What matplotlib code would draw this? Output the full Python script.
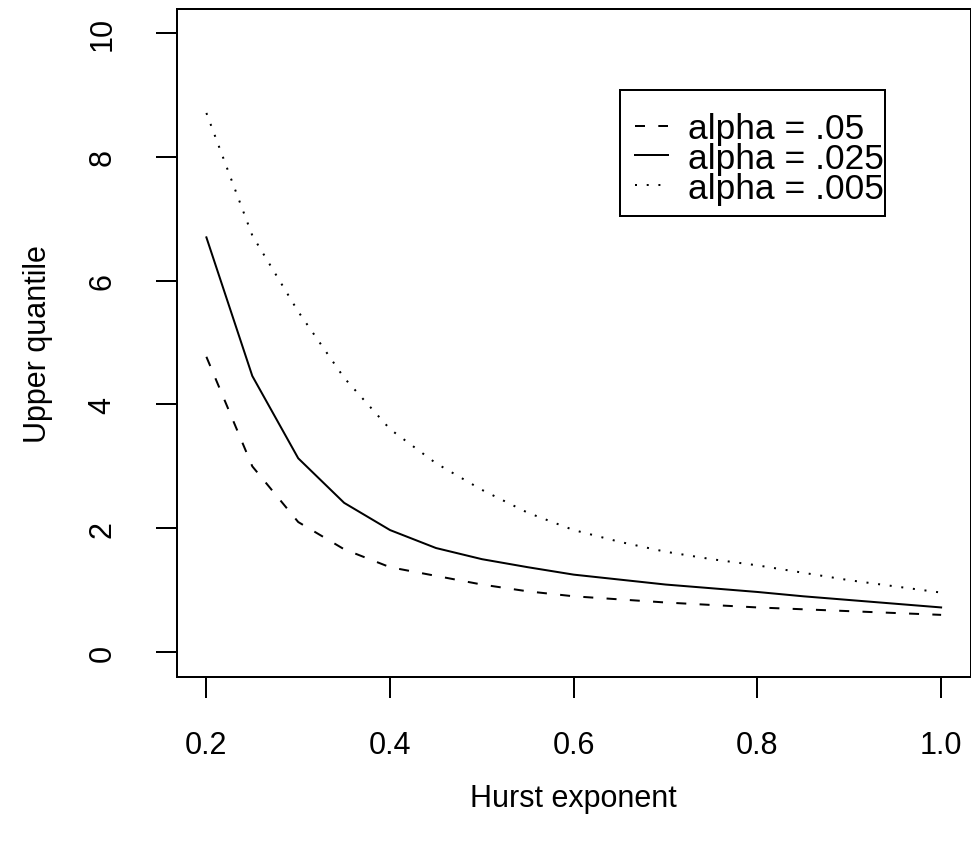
import matplotlib
matplotlib.use("Agg")
import matplotlib.pyplot as plt
from matplotlib.patches import Rectangle

hurst = [0.20, 0.25, 0.30, 0.35, 0.40, 0.45, 0.50, 0.55, 0.60, 0.65,
         0.70, 0.75, 0.80, 0.85, 0.90, 0.95, 1.00]
q_05 = [4.77, 3.00, 2.10, 1.66, 1.37, 1.23, 1.09, 0.98, 0.90, 0.85,
        0.80, 0.76, 0.72, 0.69, 0.66, 0.63, 0.60]
q_025 = [6.70, 4.46, 3.13, 2.41, 1.97, 1.68, 1.50, 1.37, 1.25, 1.17,
         1.09, 1.03, 0.97, 0.90, 0.84, 0.78, 0.72]
q_005 = [8.71, 6.73, 5.50, 4.43, 3.60, 3.05, 2.62, 2.25, 1.97, 1.78,
         1.62, 1.50, 1.40, 1.28, 1.16, 1.06, 0.96]
labels = ["alpha = .05", "alpha = .025", "alpha = .005"]
xticks = [0.2, 0.4, 0.6, 0.8, 1.0]
yticks = [0, 2, 4, 6, 8, 10]

plt.rcParams['font.family'] = ['Liberation Sans', 'DejaVu Sans']
W, H = 971, 845
fig = plt.figure(figsize=(W / 100, H / 100), dpi=100)
ax = fig.add_axes([177 / W, (H - 678) / H, (970.5 - 177) / W, (678 - 10) / H])

lw = 1.44
ax.plot(hurst, q_05, color='black', lw=lw, linestyle=(0, (5, 6.65)),
        dash_capstyle='butt', label=labels[0])
ax.plot(hurst, q_025, color='black', lw=lw, linestyle='-', label=labels[1])
ax.plot(hurst, q_005, color='black', lw=lw, linestyle=(0, (1, 4.85)),
        dash_capstyle='butt', label=labels[2])

ax.set_xlim(0.168, 1.032)
ax.set_ylim(-0.404, 10.39)
ax.set_xticks(xticks)
ax.set_xticklabels([f"{t:.1f}" for t in xticks])
ax.set_yticks(yticks)
ax.set_yticklabels([str(t) for t in yticks], rotation=90, va='center')

for s in ax.spines.values():
    s.set_linewidth(lw)
    s.set_color('black')
ax.tick_params(axis='both', direction='out', length=15, width=lw,
               labelsize=22, colors='black')
ax.tick_params(axis='x', pad=23)
ax.tick_params(axis='y', pad=28)

ax.set_xlabel("Hurst exponent", fontsize=22, labelpad=16.5)
ax.set_ylabel("Upper quantile", fontsize=22, labelpad=25)

leg = ax.legend(loc='upper left',
                bbox_to_anchor=(635 / W, (H - 113) / H),
                bbox_transform=fig.transFigure,
                fontsize=25.5, frameon=False, handlelength=0.93,
                handletextpad=0.57, labelspacing=-0.09, borderpad=0,
                borderaxespad=0)
fig.add_artist(Rectangle((620 / W, (H - 217) / H), 265 / W, 126 / H,
                         transform=fig.transFigure, fill=False,
                         edgecolor='black', lw=lw))

fig.savefig("out.png", dpi=100)
